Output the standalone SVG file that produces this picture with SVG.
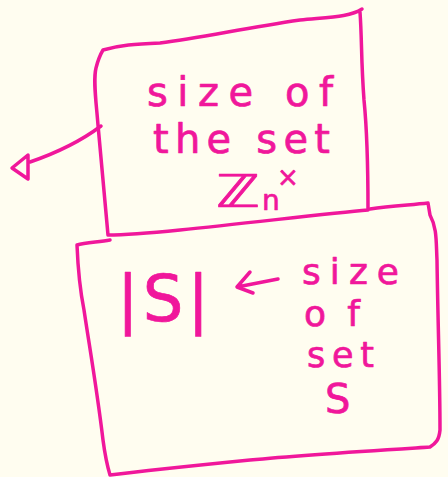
<svg xmlns="http://www.w3.org/2000/svg" width="448" height="477" viewBox="0 0 448 477">
  <style>
    .ink { fill: none; stroke: #f0179b; stroke-width: 3.5; stroke-linecap: round; stroke-linejoin: round; }
    .hand { fill: #f0179b; stroke: #f0179b; stroke-width: 0.7; stroke-linejoin: round; font-family: "DejaVu Sans", "Liberation Sans", sans-serif; font-weight: normal; }
  </style>
  <rect width="448" height="477" fill="#fffdf0"/>

  <!-- upper box: size of the set Z_n^x -->
  <g id="box-units">
    <path class="ink" d="M103,50 C120,45 135,44 160,43 C200,38 240,29 300,20 C330,17 350,17 362,9 M360,12 C362,40 361,60 364,100 C367,130 368,170 368,210 C330,213 250,223 180,230 C150,233 125,235 108,235 C105,200 101,160 98,125 C96,100 93,80 96,68 C98,60 100,55 103,50"/>
    <text class="hand" x="147" y="106" font-size="40" textLength="186" lengthAdjust="spacing">size of</text>
    <text class="hand" x="153" y="153" font-size="40" textLength="177" lengthAdjust="spacing">the set</text>
    <text class="hand" x="216" y="207" font-size="45" textLength="44" lengthAdjust="spacingAndGlyphs">ℤ</text>
    <text class="hand" x="262" y="210" font-size="28">n</text>
    <text class="hand" x="277" y="186" font-size="26">×</text>
  </g>

  <!-- lower box: |S| -->
  <g id="box-set-size">
    <path class="ink" d="M110,240 C98,242 85,243 77,245 C78,270 80,290 84,310 C90,350 97,390 103,440 C105,455 107,465 110,475 C150,470 200,465 250,460 C300,455 350,452 430,447 C436,443 439,440 440,430 C440,380 438,330 437,260 C436,240 437,228 430,215 L428,203 C410,205 390,206 370,209"/>
    <text class="hand" x="117" y="321" font-size="64" textLength="92" lengthAdjust="spacing">|S|</text>
    <text class="hand" x="302" y="284" font-size="36" textLength="97" lengthAdjust="spacing">size</text>
    <text class="hand" x="304" y="326" font-size="36" textLength="56" lengthAdjust="spacing">of</text>
    <text class="hand" x="307" y="367" font-size="35" textLength="67" lengthAdjust="spacing">set</text>
    <text class="hand" x="325" y="413" font-size="40">S</text>
  </g>

  <!-- connectors -->
  <g id="connectors">
    <path class="ink" d="M101,126 C85,138 65,150 30,162"/>
    <path class="ink" d="M28,155 L12,168 L28,179 Z"/>
    <path class="ink" d="M278,279 L237,287 M250,272 L237,287 L253,293"/>
  </g>
</svg>
